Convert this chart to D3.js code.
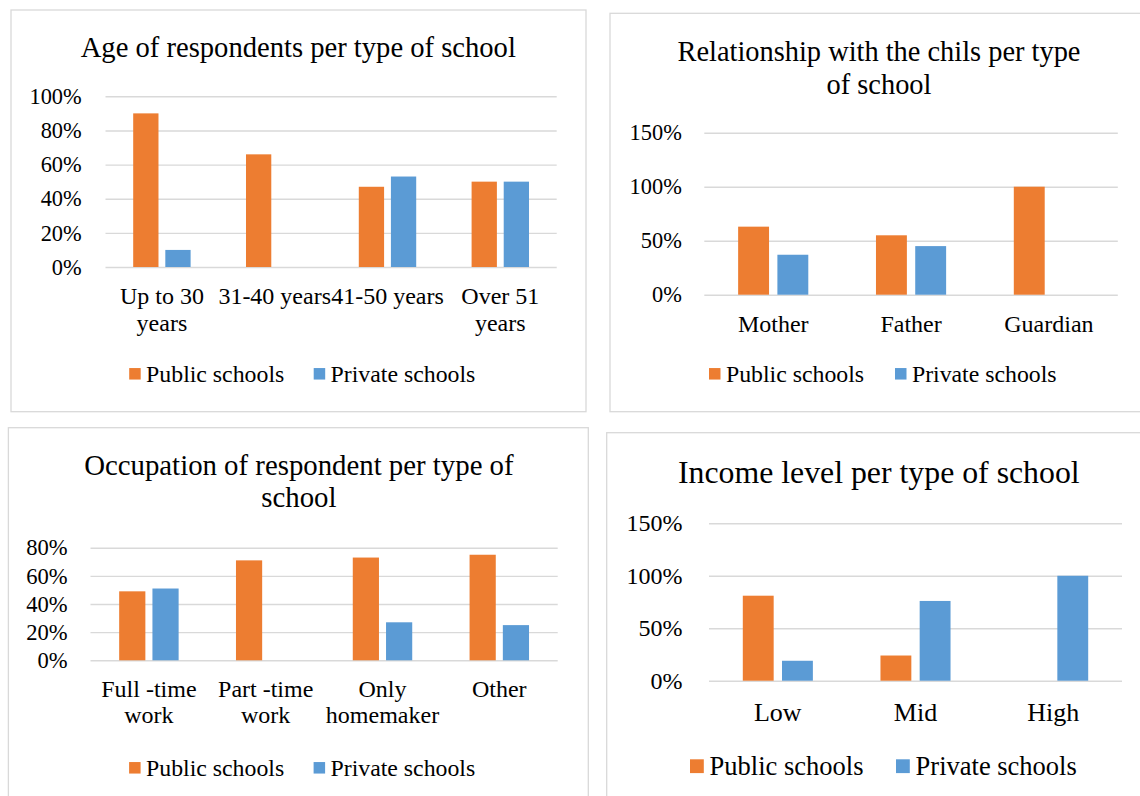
<!DOCTYPE html>
<html>
<head>
<meta charset="utf-8">
<script src="https://cdn.jsdelivr.net/npm/d3@7/dist/d3.min.js"></script>
<style>
  html, body { margin: 0; padding: 0; background: #fff; }
  svg { display: block; }
  text { font-family: "Liberation Serif", "Times New Roman", serif; fill: #000; }
</style>
</head>
<body>
<svg id="chart" width="1140" height="796"></svg>
<script>
// ---- data ----
const seriesNames = ["Public schools", "Private schools"];
const seriesColors = ["#ED7D31", "#5B9BD5"];

const ageCategories = ["Up to 30\nyears", "31-40 years", "41-50 years", "Over 51\nyears"];
const agePublic = [0.90, 0.66, 0.47, 0.50];
const agePrivate = [0.10, 0.00, 0.53, 0.50];
const ageTicks = [0, 0.2, 0.4, 0.6, 0.8, 1.0];

const relationCategories = ["Mother", "Father", "Guardian"];
const relationPublic = [0.63, 0.55, 1.00];
const relationPrivate = [0.37, 0.45, 0.00];
const relationTicks = [0, 0.5, 1.0, 1.5];

const occupationCategories = ["Full -time\nwork", "Part -time\nwork", "Only\nhomemaker", "Other"];
const occupationPublic = [0.49, 0.71, 0.73, 0.75];
const occupationPrivate = [0.51, 0.00, 0.27, 0.25];
const occupationTicks = [0, 0.2, 0.4, 0.6, 0.8];

const incomeCategories = ["Low", "Mid", "High"];
const incomePublic = [0.81, 0.24, 0.00];
const incomePrivate = [0.19, 0.76, 1.00];
const incomeTicks = [0, 0.5, 1.0, 1.5];

// ---- drawing ----
const svg = d3.select("#chart");
const pct = d3.format(".0%");

function drawPanel(p) {
  const g = svg.append("g");

  // chart frame
  g.append("rect")
    .attr("x", p.box[0]).attr("y", p.box[1])
    .attr("width", p.box[2] - p.box[0]).attr("height", p.box[3] - p.box[1])
    .attr("fill", "#fff").attr("stroke", "#d9d9d9").attr("stroke-width", 1.3);

  // title
  const title = g.append("text")
    .attr("x", p.titleX).attr("y", p.titleY)
    .attr("text-anchor", "middle")
    .style("font-size", p.titleSize + "px");
  p.title.forEach((line, i) => {
    title.append("tspan").attr("x", p.titleX).attr("dy", i ? p.titleLead : 0).text(line);
  });

  // scales: Excel-style clustered columns (gap width 219%, overlap -27%)
  const x = d3.scaleBand().domain(p.categories)
    .range([p.plotX[0], p.plotX[1]])
    .paddingInner(0.491).paddingOuter(0.2455);
  const xs = d3.scaleBand().domain(seriesNames)
    .range([0, x.bandwidth()])
    .paddingInner(0.2126).paddingOuter(0);
  const y = d3.scaleLinear().domain([0, p.max]).range([p.plotY[0], p.plotY[1]]);

  // value axis with gridlines
  const yAxis = d3.axisLeft(y)
    .tickValues(p.ticks)
    .tickFormat(pct)
    .tickSize(-(p.plotX[1] - p.plotX[0]))
    .tickPadding(p.tickPad);
  const ya = g.append("g").attr("transform", `translate(${p.plotX[0]},0)`).call(yAxis);
  ya.select(".domain").remove();
  ya.selectAll(".tick line").attr("stroke", "#d9d9d9").attr("stroke-width", 1.4);
  ya.selectAll(".tick text")
    .style("font-size", p.tickSize + "px")
    .style("font-family", "'Liberation Serif', 'Times New Roman', serif")
    .attr("fill", "#000");

  // bars
  const rows = p.categories.map((c, i) => ({ cat: c, values: [p.series[0][i], p.series[1][i]] }));
  const grp = g.selectAll(".cluster").data(rows).enter().append("g")
    .attr("transform", d => `translate(${x(d.cat)},0)`);
  grp.selectAll("rect")
    .data(d => d.values.map((v, k) => ({ name: seriesNames[k], value: v, color: seriesColors[k] })))
    .enter().append("rect")
    .attr("x", d => xs(d.name))
    .attr("y", d => y(d.value))
    .attr("width", xs.bandwidth())
    .attr("height", d => y(0) - y(d.value))
    .attr("fill", d => d.color);

  // category labels
  p.categories.forEach(c => {
    const cx = x(c) + x.bandwidth() / 2;
    const t = g.append("text")
      .attr("x", cx).attr("y", p.labelY)
      .attr("text-anchor", "middle")
      .style("font-size", p.labelSize + "px");
    c.split("\n").forEach((line, i) => {
      t.append("tspan").attr("x", cx).attr("dy", i ? p.labelLead : 0).text(line);
    });
  });

  // legend
  seriesNames.forEach((name, k) => {
    g.append("rect")
      .attr("x", p.legendX[k]).attr("y", p.legendY - p.swatch / 2 - 0.5)
      .attr("width", p.swatch).attr("height", p.swatch)
      .attr("fill", seriesColors[k]);
    g.append("text")
      .attr("x", p.legendX[k] + p.swatch + p.legendGap)
      .attr("y", p.legendY)
      .attr("dy", "0.32em")
      .style("font-size", p.legendSize + "px")
      .text(name);
  });
}

drawPanel({
  box: [11, 10, 586, 411.7],
  title: ["Age of respondents per type of school"], titleX: 298.3, titleY: 57.3, titleSize: 28.6, titleLead: 33,
  categories: ageCategories, series: [agePublic, agePrivate], ticks: ageTicks, max: 1.0,
  plotX: [105.5, 556.7], plotY: [267, 96.3], tickPad: 23.8, tickSize: 22.4,
  labelY: 304, labelSize: 24, labelLead: 27,
  legendX: [129.2, 313.7], legendY: 374.3, swatch: 11.5, legendGap: 5.4, legendSize: 23.8
});

drawPanel({
  box: [610, 13.3, 1150, 411.7],
  title: ["Relationship with the chils per type", "of school"], titleX: 879, titleY: 61, titleSize: 28.4, titleLead: 32.5,
  categories: relationCategories, series: [relationPublic, relationPrivate], ticks: relationTicks, max: 1.5,
  plotX: [704.3, 1117.8], plotY: [294.7, 132.7], tickPad: 22.5, tickSize: 22.4,
  labelY: 331.5, labelSize: 24, labelLead: 27,
  legendX: [709, 895], legendY: 374.3, swatch: 11.5, legendGap: 5.4, legendSize: 23.8
});

drawPanel({
  box: [8.4, 427.7, 588.3, 810],
  title: ["Occupation of respondent per type of", "school"], titleX: 298.9, titleY: 475, titleSize: 28.8, titleLead: 32.3,
  categories: occupationCategories, series: [occupationPublic, occupationPrivate], ticks: occupationTicks, max: 0.8,
  plotX: [90.5, 557.7], plotY: [660.3, 547.7], tickPad: 22.9, tickSize: 22.6,
  labelY: 696.7, labelSize: 24, labelLead: 26.6,
  legendX: [129.1, 313.6], legendY: 768.3, swatch: 11.5, legendGap: 5.4, legendSize: 23.8
});

drawPanel({
  box: [606.7, 432.7, 1150, 810],
  title: ["Income level per type of school"], titleX: 878.8, titleY: 483.3, titleSize: 31.8, titleLead: 36,
  categories: incomeCategories, series: [incomePublic, incomePrivate], ticks: incomeTicks, max: 1.5,
  plotX: [709, 1122], plotY: [680.7, 523.3], tickPad: 26.4, tickSize: 24,
  labelY: 721, labelSize: 26, labelLead: 30,
  legendX: [690, 896], legendY: 766.7, swatch: 13.8, legendGap: 5.8, legendSize: 26.5
});
</script>
</body>
</html>
